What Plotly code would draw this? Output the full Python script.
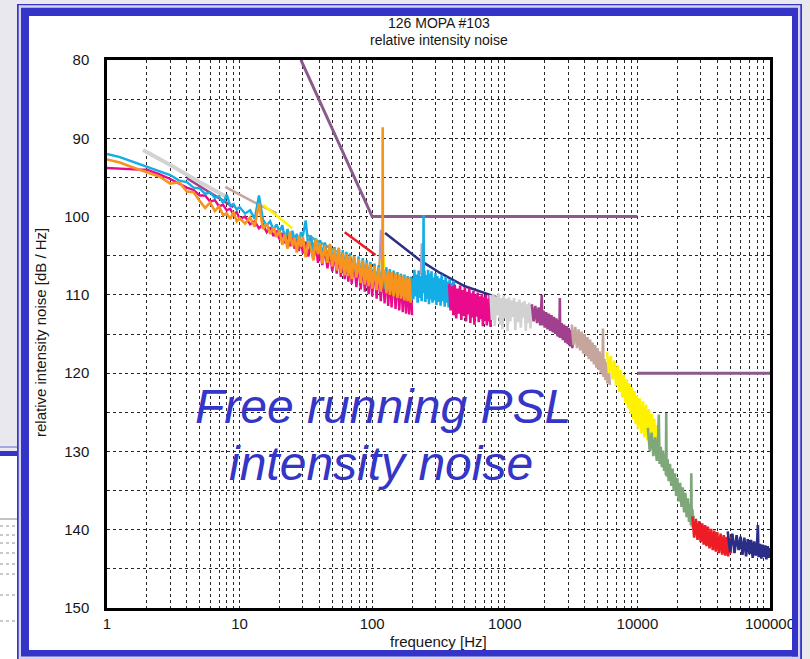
import plotly.graph_objects as go

# ---------------- data ----------------
LF_F = [1, 1.25, 1.5, 1.75, 2, 2.5, 3, 3.5, 4, 4.5,
        5, 5.5, 6, 6.5, 7, 7.5, 8, 8.5, 9, 9.5,
        10, 11, 12, 13, 14, 15, 16, 17, 18, 19,
        20, 21, 22, 23, 24, 25, 26, 27, 28, 29,
        30, 31.5, 33, 34.5, 36, 37.5, 39, 40.5, 42, 44,
        46, 48, 50, 52, 54, 56, 58, 60, 62, 64,
        66, 68, 70, 73, 76, 79, 82, 85, 88, 91,
        94, 97, 100, 104, 108, 112, 116, 120, 124, 128,
        132, 136, 140, 145, 150, 155, 160, 165, 170, 175,
        180, 185, 190, 195, 200]
PINK_LF_V = [93.8, 93.9, 93.9, 94.0, 94.0, 94.6, 95.2, 95.8, 96.3, 96.6,
             97.3, 97.3, 98.1, 97.9, 98.7, 98.5, 99.2, 99.0, 99.8, 99.4,
             100.3, 100.0, 101.0, 100.6, 101.5, 101.0, 102.0, 101.4, 102.5, 101.8,
             102.9, 102.1, 103.4, 102.4, 103.8, 102.6, 104.1, 102.9, 104.4, 103.0,
             104.7, 103.2, 105.1, 103.4, 105.5, 103.7, 105.9, 104.0, 106.2, 104.2,
             106.6, 104.5, 107.0, 104.7, 107.3, 104.9, 107.7, 105.1, 108.0, 105.3,
             108.3, 105.5, 108.6, 105.6, 109.0, 105.8, 109.3, 106.0, 109.6, 106.2,
             109.9, 106.4, 110.2, 106.5, 110.5, 106.7, 110.8, 106.9, 111.1, 107.1,
             111.4, 107.2, 111.6, 107.4, 111.8, 107.6, 112.0, 107.8, 112.2, 108.0,
             112.4, 108.2, 112.5, 108.4, 112.6]
CYAN_LF_V = [92.0, 92.4, 92.9, 93.3, 93.7, 94.3, 94.7, 95.4, 95.6, 96.3,
             96.4, 97.1, 96.9, 97.6, 97.4, 98.3, 97.2, 98.6, 98.4, 99.1,
             98.8, 99.6, 99.2, 100.3, 97.3, 100.4, 101.1, 100.6, 101.7, 101.0,
             102.0, 101.1, 102.9, 101.6, 103.2, 101.8, 103.0, 102.2, 103.6, 102.0,
             102.5, 100.5, 103.9, 102.4, 104.3, 102.8, 104.6, 103.0, 104.9, 103.3,
             105.3, 103.6, 105.7, 103.9, 106.1, 104.0, 106.4, 104.3, 106.7, 104.5,
             107.0, 104.7, 107.3, 105.0, 107.6, 105.1, 107.9, 105.3, 108.2, 105.6,
             108.4, 105.8, 108.6, 106.0, 108.8, 106.2, 109.0, 106.4, 109.2, 106.5,
             109.4, 106.7, 109.6, 106.9, 109.8, 107.1, 110.0, 107.3, 110.1, 107.4,
             110.3, 107.6, 110.5, 107.7, 108.2]
ORANGE_F = [1, 1.25, 1.5, 1.75, 2, 2.5, 3, 3.5, 4, 4.5,
            5, 5.5, 6, 6.5, 7, 7.5, 8, 8.5, 9, 9.5,
            10, 11, 12, 13, 14, 15, 16, 17, 18, 19,
            20, 21, 22, 23, 24, 25, 26, 27, 28, 29,
            30, 31.5, 33, 34.5, 36, 37.5, 39, 40.5, 42, 44,
            46, 48, 50, 52, 54, 56, 58, 60, 62, 64,
            66, 68, 70, 73, 76, 79, 82, 85, 88, 91,
            94, 97, 100, 104, 108, 112, 116, 119.5, 120, 120.5, 124, 128,
            132, 136, 140, 145, 150, 155, 160, 165, 170, 175,
            180, 185, 190, 195, 200]
ORANGE_V = [92.7, 93.1, 93.6, 94.0, 94.4, 94.9, 95.8, 95.6, 96.8, 96.9,
            98.0, 98.9, 98.2, 99.3, 98.7, 99.8, 99.6, 100.3, 99.4, 100.6,
            100.2, 100.9, 100.1, 101.3, 98.3, 101.6, 100.9, 102.2, 101.4, 102.6,
            101.8, 103.6, 102.3, 104.1, 101.9, 103.8, 102.7, 104.6, 102.4, 103.9,
            102.6, 105.2, 103.1, 104.0, 105.6, 102.9, 104.8, 103.4, 106.0, 103.7,
            105.9, 103.5, 106.4, 104.1, 106.9, 104.0, 107.2, 104.6, 107.5, 104.8,
            107.6, 105.0, 108.0, 105.1, 107.8, 105.4, 108.5, 105.6, 108.7, 105.9,
            108.9, 106.0, 109.2, 106.3, 109.4, 106.5, 109.6, 108.0, 88.6, 108.2, 106.8, 109.8,
            106.9, 110.0, 107.1, 110.2, 107.2, 110.4, 107.4, 110.5, 107.6, 110.7,
            107.7, 110.8, 107.9, 111.0, 108.0]
CYAN_HF_F = [200, 204, 208, 212, 216, 220, 224, 228, 232, 236,
             240, 243, 244, 245, 248, 252, 256, 260, 264, 268,
             272, 276, 280, 285, 290, 295, 300, 305, 310, 316,
             322, 328, 334, 340, 346, 352, 358, 364, 370, 377,
             384, 391, 398, 405, 412, 420]
CYAN_HF_V = [108.0, 110.6, 106.8, 110.2, 107.4, 111.0, 106.9, 110.4, 107.6, 110.8,
             107.2, 109.5, 99.8, 109.8, 106.9, 110.9, 107.5, 110.5, 106.8, 111.2,
             107.3, 110.6, 107.0, 111.0, 107.8, 110.7, 107.2, 111.3, 107.6, 110.9,
             107.9, 111.4, 107.4, 110.8, 108.1, 111.5, 107.7, 111.0, 108.3, 111.6,
             108.0, 111.2, 108.5, 111.7, 108.2, 111.0]
PINK_HF_F = [380, 390, 400, 410, 420, 430, 440, 450, 460, 470,
             480, 490, 500, 510, 520, 530, 540, 550, 560, 570,
             580, 590, 600, 612, 624, 636, 648, 660, 672, 684,
             696, 708, 720, 732, 744, 756, 768, 780, 790, 800]
PINK_HF_V = [108.6, 112.0, 108.9, 112.6, 108.7, 113.0, 109.2, 112.4, 108.8, 113.2,
             109.4, 112.7, 109.0, 113.4, 109.6, 112.5, 109.2, 113.6, 109.8, 112.9,
             109.5, 113.8, 110.0, 112.8, 109.7, 113.5, 110.2, 113.1, 109.9, 114.0,
             110.3, 113.3, 110.0, 113.9, 110.5, 113.4, 110.1, 114.1, 110.6, 113.2]
GREY_HF_F = [780, 800, 820, 840, 860, 880, 900, 920, 940, 960,
             980, 1000, 1025, 1050, 1075, 1100, 1125, 1150, 1175, 1200,
             1230, 1260, 1290, 1320, 1350, 1380, 1410, 1440, 1470, 1500,
             1530, 1560, 1590, 1620, 1650]
GREY_HF_V = [110.0, 113.2, 109.9, 114.0, 110.2, 112.6, 109.8, 113.8, 110.4, 114.4,
             110.1, 113.0, 110.5, 114.6, 110.3, 113.4, 110.7, 112.8, 110.4, 114.5,
             110.9, 113.5, 110.6, 114.2, 111.0, 112.9, 110.8, 114.6, 111.2, 113.6,
             111.0, 114.3, 111.4, 113.2, 111.6]
PURPLE_HF_F = [1600, 1650, 1700, 1750, 1800, 1850, 1880, 1900, 1920, 1960,
               2000, 2050, 2100, 2150, 2200, 2250, 2300, 2350, 2400, 2450,
               2500, 2550, 2580, 2600, 2620, 2680, 2740, 2800, 2860, 2920,
               2980, 3040, 3100, 3160, 3230, 3300]
PURPLE_HF_V = [111.2, 113.4, 111.4, 113.6, 111.6, 113.9, 111.8, 110.0, 113.9, 112.0,
               114.2, 112.2, 114.4, 112.4, 114.6, 112.6, 114.8, 112.8, 115.0, 113.0,
               115.3, 113.2, 115.4, 110.4, 115.5, 113.6, 115.8, 113.8, 116.1, 114.0,
               116.3, 114.2, 116.6, 114.5, 116.8, 114.8]
TAN_HF_F = [3200, 3300, 3400, 3500, 3600, 3700, 3800, 3900, 4000, 4100,
            4200, 4300, 4400, 4500, 4600, 4700, 4800, 4900, 5000, 5100,
            5200, 5300, 5400, 5450, 5500, 5550, 5650, 5750, 5850, 5950,
            6050, 6200]
TAN_HF_V = [113.8, 116.4, 114.1, 116.8, 114.4, 117.1, 114.7, 117.5, 115.0, 117.8,
            115.4, 118.2, 115.7, 118.5, 116.1, 118.9, 116.4, 119.3, 116.8, 119.6,
            117.2, 120.0, 117.6, 120.2, 114.3, 120.5, 118.2, 120.9, 118.6, 121.3,
            119.0, 121.5]
YELLOW_HF_F = [5900, 6100, 6300, 6500, 6700, 6900, 7100, 7300, 7500, 7700,
               7900, 8100, 8300, 8500, 8700, 8900, 9100, 9300, 9500, 9700,
               9900, 10100, 10400, 10700, 11000, 11300, 11600, 11900, 12200, 12500,
               12800, 13100, 13400, 13700, 14000]
YELLOW_HF_V = [117.3, 120.0, 117.8, 120.8, 118.4, 121.6, 119.0, 122.4, 119.6, 123.1,
               120.2, 123.8, 120.8, 124.5, 121.3, 125.2, 121.8, 125.9, 122.3, 126.5,
               122.8, 127.1, 123.2, 127.7, 123.6, 128.2, 124.0, 128.6, 124.6, 129.0,
               125.2, 129.3, 125.8, 129.6, 126.6]
GREEN_HF_F = [12000, 12400, 12800, 13200, 13600, 14000, 14300, 14500, 14700, 15000,
              15300, 15600, 15900, 16200, 16400, 16500, 16600, 16900, 17200, 17600,
              18000, 18400, 18800, 19200, 19600, 20000, 20500, 21000, 21500, 22000,
              22500, 23000, 23500, 24000, 24500, 25000, 25300, 25500, 25700, 26000,
              26300, 26600]
GREEN_HF_V = [127.0, 130.0, 127.6, 130.6, 128.2, 131.2, 128.8, 125.3, 131.6, 129.4,
              132.0, 129.9, 132.5, 130.4, 133.0, 125.1, 133.2, 131.0, 133.8, 131.6,
              134.4, 132.2, 135.0, 132.8, 135.7, 133.4, 136.4, 134.0, 137.1, 134.6,
              137.8, 135.3, 138.4, 136.0, 139.0, 136.7, 139.4, 132.8, 139.6, 137.4,
              140.0, 138.2]
RED_HF_F = [26000, 26800, 27600, 28400, 29200, 30000, 30800, 31600, 32400, 33200,
            34000, 35000, 36000, 37000, 38000, 39000, 40000, 41200, 42400, 43600,
            44800, 46000, 47200, 48400, 49600, 50800]
RED_HF_V = [138.3, 141.0, 138.6, 141.3, 138.9, 141.6, 139.2, 141.9, 139.4, 142.1,
            139.6, 142.4, 139.9, 142.6, 140.1, 142.8, 140.3, 143.0, 140.5, 143.2,
            140.7, 143.3, 140.9, 143.4, 141.0, 143.0]
NAVY_HF_F = [48000, 50000, 52000, 54000, 56000, 58000, 60000, 62000, 64000, 66000,
             68000, 70000, 72000, 74000, 76000, 78000, 80000, 81000, 82000, 84000,
             86000, 88000, 90000, 92000, 94000, 96000, 98000, 100000]
NAVY_HF_V = [140.2, 142.8, 140.5, 143.0, 140.7, 142.6, 140.9, 143.2, 141.0, 143.4,
             141.2, 143.1, 141.3, 143.6, 141.5, 143.3, 141.6, 139.4, 143.5, 141.8,
             143.7, 141.9, 143.5, 142.0, 143.8, 142.1, 143.6, 142.3]

# start-of-span smooth segments
GREY_LF_F = [1.87, 3, 5, 8]
GREY_LF_V = [91.5, 93.4, 95.6, 97.5]
PURPLE_LF_F = [4, 6, 9]
PURPLE_LF_V = [95.1, 96.9, 98.8]
TAN_LF_F = [7.8, 12, 19]
TAN_LF_V = [96.2, 97.9, 99.6]
YELLOW_LF_F = [15, 20, 25, None, 112, 116, 120, 124]
YELLOW_LF_V = [98.5, 100.2, 101.5, None, 107.0, 104.6, 104.4, 106.6]
GREEN_LF_F = [32, 42, 54]
GREEN_LF_V = [102.3, 103.5, 104.5]
RED_LF_F = [62, 80, 106]
RED_LF_V = [102.0, 103.4, 104.9]
NAVY_LF_F = [125, 162, 230, 325, 500, 775, 900]
NAVY_LF_V = [102.1, 103.6, 105.6, 107.2, 108.9, 110.0, 110.4]
PALE_F = [113, 116, 119, None, 232, 236, 240]
PALE_V = [106.5, 101.7, 107.0, None, 107.5, 103.4, 108.0]

# specification line
SPEC1_F = [29, 100, 10000]
SPEC1_V = [80, 100, 100]
SPEC2_F = [10000, 100000]
SPEC2_V = [120, 120]

X_TICKS = [m * 10 ** d for d in range(5) for m in range(1, 10)] + [100000]
X_LABELS = {1: "1", 10: "10", 100: "100", 1000: "1000", 10000: "10000", 100000: "100000"}
Y_TICKS = list(range(80, 151, 5))

C_SPEC = "#8a5a8c"
C_PINK = "#ea0a8c"
C_CYAN = "#14aee6"
C_ORANGE = "#f7941d"
C_GREY = "#d2d2d2"
C_PURPLE = "#a0408e"
C_TAN = "#c6a69c"
C_YELLOW = "#fff200"
C_GREEN = "#7ea77a"
C_RED = "#ee1c25"
C_NAVY = "#2b2d86"
C_PALE = "#b99ac3"

W, H = 810, 659
L, R, T, B = 107, 40, 60, 51
PW, PH = W - L - R, H - T - B


def xp(px):
    return (px - L) / PW


def yp(py):
    return (H - B - py) / PH


fig = go.Figure()


def add(f, v, color, width=2.2):
    fig.add_trace(go.Scatter(x=f, y=v, mode="lines", line=dict(color=color, width=width),
                             connectgaps=False, hoverinfo="skip", showlegend=False))


add(SPEC1_F, SPEC1_V, C_SPEC, 3)
add(SPEC2_F, SPEC2_V, C_SPEC, 3)
add(GREY_LF_F, GREY_LF_V, C_GREY, 4)
add(PURPLE_LF_F, PURPLE_LF_V, C_PURPLE, 2.5)
add(TAN_LF_F, TAN_LF_V, C_TAN, 2.5)
add(YELLOW_LF_F, YELLOW_LF_V, C_YELLOW, 2.5)
add(GREEN_LF_F, GREEN_LF_V, C_GREEN, 2.5)
add(RED_LF_F, RED_LF_V, C_RED, 2.5)
add(NAVY_LF_F, NAVY_LF_V, C_NAVY, 2.5)
add(PALE_F, PALE_V, C_PALE, 2)
add(LF_F, PINK_LF_V, C_PINK, 2.4)
add(LF_F, CYAN_LF_V, C_CYAN, 2.4)
add(ORANGE_F, ORANGE_V, C_ORANGE, 2.6)
add(CYAN_HF_F, CYAN_HF_V, C_CYAN, 2.6)
add(PINK_HF_F, PINK_HF_V, C_PINK, 2.6)
add(GREY_HF_F, GREY_HF_V, C_GREY, 2.6)
add(PURPLE_HF_F, PURPLE_HF_V, C_PURPLE, 2.6)
add(TAN_HF_F, TAN_HF_V, C_TAN, 2.6)
add(YELLOW_HF_F, YELLOW_HF_V, C_YELLOW, 2.6)
add(GREEN_HF_F, GREEN_HF_V, C_GREEN, 2.6)
add(RED_HF_F, RED_HF_V, C_RED, 2.6)
add(NAVY_HF_F, NAVY_HF_V, C_NAVY, 2.6)

FONT = "Liberation Sans, Arial, sans-serif"
TXT = "#161616"

shapes = []


def rect(x0, y0, x1, y1, color, layer="below"):
    shapes.append(dict(type="rect", xref="paper", yref="paper",
                       x0=xp(x0), x1=xp(x1), y0=yp(y1), y1=yp(y0),
                       fillcolor=color, line=dict(width=0), layer=layer))


def hline(x0, x1, y, color, dash="solid", width=1):
    shapes.append(dict(type="line", xref="paper", yref="paper",
                       x0=xp(x0), x1=xp(x1), y0=yp(y), y1=yp(y),
                       line=dict(color=color, width=width, dash=dash), layer="below"))


BLUE = "#3434c8"
# slide behind on the left
rect(0, 446, 17, 448, "#a8a8e0")
rect(0, 451, 17, 456, BLUE)
rect(0, 456, 17, 659, "white")
hline(0, 17, 519, "#b0b0b0", width=1.5)
for yy in [526, 535, 543, 553, 564, 574, 595, 621]:
    hline(0, 17, yy, "#b8b8b8", dash="dot", width=1.5)
# main frame
rect(17, 4, 802, 662, BLUE)
rect(18.7, 5.3, 800.3, 662, "#d4d4ee")
rect(21, 7.7, 798, 656.5, BLUE)
rect(29, 16, 792, 650, "white")
# frame parts above (clip the last tick label)
rect(792, 560, 798, 656.5, BLUE, layer="above")
rect(798, 560, 800.3, 662, "#d4d4ee", layer="above")
rect(800.3, 560, 802, 662, BLUE, layer="above")
rect(802, 560, 810, 662, "#e8e8ee", layer="above")

BIG = dict(family=FONT, size=48, color="#3535c8", style="italic")
annotations = [
    dict(text="126 MOPA #103", x=0.5, y=yp(23), xref="paper", yref="paper",
         showarrow=False, font=dict(family=FONT, size=14, color=TXT), xanchor="center", yanchor="middle"),
    dict(text="relative intensity noise", x=0.5, y=yp(40), xref="paper", yref="paper",
         showarrow=False, font=dict(family=FONT, size=14, color=TXT), xanchor="center", yanchor="middle"),
    dict(text="frequency [Hz]", x=0.5, y=yp(641), xref="paper", yref="paper",
         showarrow=False, font=dict(family=FONT, size=15, color=TXT), xanchor="center", yanchor="middle"),
    dict(text="relative intensity noise [dB / Hz]", x=xp(40), y=yp(333), xref="paper", yref="paper",
         showarrow=False, textangle=-90, font=dict(family=FONT, size=15, color=TXT),
         xanchor="center", yanchor="middle"),
    dict(text="Free running PSL", x=xp(383), y=yp(406), xref="paper", yref="paper",
         showarrow=False, font=BIG, xanchor="center", yanchor="middle"),
    dict(text="intensity noise", x=xp(381), y=yp(463), xref="paper", yref="paper",
         showarrow=False, font=BIG, xanchor="center", yanchor="middle"),
]

fig.update_layout(
    width=W, height=H,
    margin=dict(l=L, r=R, t=T, b=B),
    paper_bgcolor="#e8e8ee",
    plot_bgcolor="white",
    shapes=shapes,
    annotations=annotations,
    showlegend=False,
)
fig.update_xaxes(
    type="log", range=[0, 5],
    tickmode="array", tickvals=X_TICKS,
    ticktext=[X_LABELS.get(v, "") for v in X_TICKS],
    tickfont=dict(family=FONT, size=15, color=TXT),
    showgrid=True, gridcolor="#262626", griddash="dot", gridwidth=1,
    showline=True, linecolor="black", linewidth=2.5, mirror=True,
    ticks="", zeroline=False,
)
fig.update_yaxes(
    range=[150, 80],
    tickmode="array", tickvals=Y_TICKS,
    ticktext=[str(v) if v % 10 == 0 else "" for v in Y_TICKS],
    tickfont=dict(family=FONT, size=15, color=TXT),
    ticklabelstandoff=12,
    showgrid=True, gridcolor="#262626", griddash="dot", gridwidth=1,
    showline=True, linecolor="black", linewidth=2.5, mirror=True,
    ticks="", zeroline=False,
)

fig.write_html("out.html")
